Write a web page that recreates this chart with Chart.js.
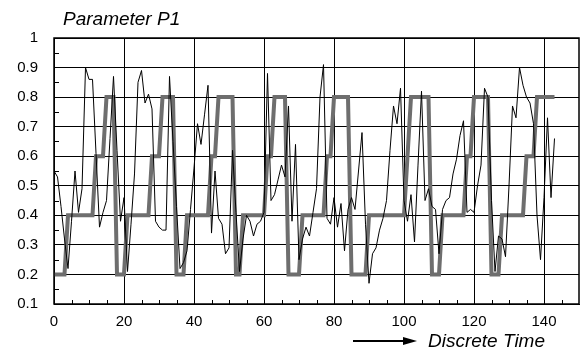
<!DOCTYPE html>
<html>
<head>
<meta charset="utf-8">
<script src="https://cdn.jsdelivr.net/npm/chart.js@4"></script>
<style>
  html, body { margin: 0; padding: 0; background: #fff; }
  canvas { display: block; }
</style>
</head>
<body>
<canvas id="myChart" width="584" height="354"></canvas>
<script>
// black line: measured parameter, one value per time step
const measured = [
  0.55, 0.53, 0.43, 0.32, 0.22, 0.38, 0.55, 0.41, 0.49, 0.90,
  0.86, 0.86, 0.61, 0.36, 0.41, 0.45, 0.66, 0.87, 0.62, 0.38,
  0.46, 0.21, 0.37, 0.54, 0.85, 0.89, 0.78, 0.81, 0.76, 0.38,
  0.36, 0.35, 0.35, 0.87, 0.65, 0.43, 0.22, 0.24, 0.28, 0.42,
  0.56, 0.71, 0.64, 0.74, 0.84, 0.34, 0.55, 0.39, 0.37, 0.27,
  0.29, 0.62, 0.41, 0.21, 0.32, 0.40, 0.38, 0.33, 0.37, 0.38,
  0.41, 0.88, 0.45, 0.47, 0.52, 0.57, 0.53, 0.77, 0.38, 0.64,
  0.25, 0.32, 0.36, 0.33, 0.41, 0.49, 0.80, 0.91, 0.39, 0.37,
  0.46, 0.36, 0.44, 0.28, 0.42, 0.46, 0.42, 0.55, 0.68, 0.37,
  0.17, 0.27, 0.29, 0.35, 0.39, 0.45, 0.62, 0.77, 0.71, 0.83,
  0.45, 0.38, 0.47, 0.31, 0.57, 0.82, 0.45, 0.49, 0.43, 0.42,
  0.27, 0.42, 0.45, 0.46, 0.54, 0.59, 0.67, 0.72, 0.41, 0.42,
  0.41, 0.50, 0.57, 0.83, 0.80, 0.45, 0.21, 0.33, 0.32, 0.26,
  0.50, 0.77, 0.73, 0.90, 0.84, 0.80, 0.78, 0.71, 0.40, 0.25,
  0.46, 0.73, 0.46, 0.66
];
// thick grey line: quantised level
const level = [
  0.2, 0.2, 0.2, 0.2, 0.4, 0.4, 0.4, 0.4, 0.4, 0.4,
  0.4, 0.4, 0.6, 0.6, 0.6, 0.8, 0.8, 0.8, 0.2, 0.2,
  0.2, 0.4, 0.4, 0.4, 0.4, 0.4, 0.4, 0.4, 0.6, 0.6,
  0.6, 0.8, 0.8, 0.8, 0.8, 0.2, 0.2, 0.2, 0.4, 0.4,
  0.4, 0.4, 0.4, 0.4, 0.4, 0.6, 0.6, 0.8, 0.8, 0.8,
  0.8, 0.8, 0.2, 0.2, 0.4, 0.4, 0.4, 0.4, 0.4, 0.4,
  0.4, 0.6, 0.6, 0.8, 0.8, 0.8, 0.8, 0.2, 0.2, 0.2,
  0.2, 0.4, 0.4, 0.4, 0.4, 0.4, 0.4, 0.4, 0.6, 0.6,
  0.8, 0.8, 0.8, 0.8, 0.8, 0.2, 0.2, 0.2, 0.2, 0.2,
  0.4, 0.4, 0.4, 0.4, 0.4, 0.4, 0.4, 0.4, 0.4, 0.4,
  0.4, 0.6, 0.8, 0.8, 0.8, 0.8, 0.8, 0.8, 0.2, 0.2,
  0.2, 0.4, 0.4, 0.4, 0.4, 0.4, 0.4, 0.4, 0.6, 0.6,
  0.8, 0.8, 0.8, 0.8, 0.8, 0.2, 0.2, 0.2, 0.4, 0.4,
  0.4, 0.4, 0.4, 0.4, 0.4, 0.6, 0.6, 0.6, 0.8, 0.8,
  0.8, 0.8, 0.8, 0.8
];
const steps = measured.map((_, i) => i);
const xTicks = [0, 20, 40, 60, 80, 100, 120, 140];
const yTicks = [0.1, 0.2, 0.3, 0.4, 0.5, 0.6, 0.7, 0.8, 0.9, 1];

const FONT = "'Liberation Sans', Arial, sans-serif";

// frame, minor ticks, title and axis caption
const decor = {
  id: 'decor',
  afterDraw(chart) {
    const c = chart.ctx;
    const a = chart.chartArea;
    const xs = chart.scales.x, ys = chart.scales.y;
    c.save();
    c.strokeStyle = '#000';
    c.lineWidth = 1;
    c.beginPath();
    for (let t = 5; t < 150; t += 5) {
      if (t % 20 === 0) continue;
      const px = Math.round(xs.getPixelForValue(t)) + 0.5;
      c.moveTo(px, a.bottom);
      c.lineTo(px, a.bottom - 4);
    }
    for (let k = 1; k < 19; k += 2) {
      const py = Math.round(ys.getPixelForValue(0.1 + k * 0.05)) + 0.5;
      c.moveTo(a.left, py);
      c.lineTo(a.left + 5, py);
    }
    c.stroke();

    c.lineWidth = 1.5;
    c.strokeRect(a.left, a.top, a.right - a.left, a.bottom - a.top);

    c.fillStyle = '#000';
    c.font = 'italic 19px ' + FONT;
    c.textBaseline = 'middle';
    c.textAlign = 'left';
    c.fillText('Parameter P1', 63, 20);
    c.fillText('Discrete Time', 428, 342);

    // arrow
    c.lineWidth = 2;
    c.beginPath();
    c.moveTo(353, 341);
    c.lineTo(405, 341);
    c.stroke();
    c.beginPath();
    c.moveTo(417, 341);
    c.lineTo(403, 337);
    c.lineTo(403, 345);
    c.closePath();
    c.fill();
    c.restore();
  }
};

new Chart(document.getElementById('myChart'), {
  type: 'line',
  data: {
    labels: steps,
    datasets: [
      {
        label: 'measured',
        data: measured,
        borderColor: '#000',
        borderWidth: 1,
        pointRadius: 0,
        tension: 0,
      },
      {
        label: 'level',
        data: level,
        borderColor: '#6e6e6e',
        borderWidth: 4,
        pointRadius: 0,
        tension: 0,
      }
    ]
  },
  options: {
    responsive: false,
    animation: false,
    devicePixelRatio: 1,
    layout: { padding: { top: 38, right: 5, left: 0, bottom: 0 } },
    plugins: {
      legend: { display: false },
      tooltip: { enabled: false },
    },
    scales: {
      x: {
        type: 'linear',
        min: 0,
        max: 150,
        afterBuildTicks: s => { s.ticks = xTicks.map(v => ({ value: v })); },
        afterFit: s => { s.height = 50; },
        ticks: {
          color: '#000',
          font: { family: FONT, size: 15 },
          padding: 9,
          maxRotation: 0,
          autoSkip: false,
        },
        grid: { color: '#000', lineWidth: 1, drawTicks: false },
        border: { color: '#000', width: 1 },
      },
      y: {
        min: 0.1,
        max: 1,
        afterBuildTicks: s => { s.ticks = yTicks.map(v => ({ value: v })); },
        afterFit: s => { s.width = 54; },
        ticks: {
          color: '#000',
          font: { family: FONT, size: 15 },
          padding: 16,
          callback: v => String(v),
        },
        grid: { color: '#000', lineWidth: 1, drawTicks: false },
        border: { color: '#000', width: 1 },
      }
    }
  },
  plugins: [decor]
});
</script>
</body>
</html>
